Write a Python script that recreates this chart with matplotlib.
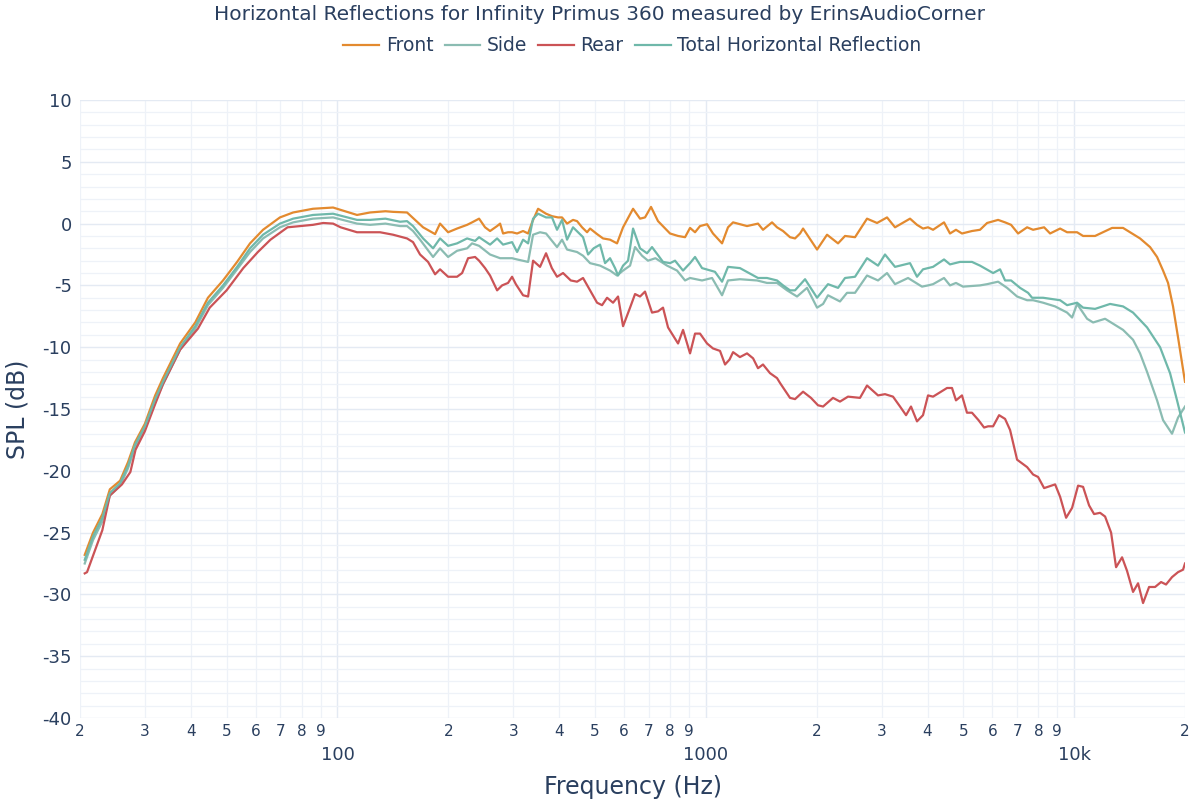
import matplotlib
matplotlib.use('Agg')
import matplotlib.pyplot as plt
from matplotlib.ticker import FixedLocator, FixedFormatter, MultipleLocator

plt.rcParams['font.family'] = ['DejaVu Sans']
plt.rcParams['axes.unicode_minus'] = False

# Data (Hz, dB)
front_freq = [20.6, 21.7, 23.0, 24.1, 25.7, 27.0, 28.2, 30.0, 32.0, 33.6, 37.4, 41.1, 44.5, 48.9,
              53.4, 57.9, 62.8, 69.8, 75.8, 85.8, 97.3, 113, 122.6, 135, 141.6, 154.5, 160.4, 170.8,
              184.1, 189.9, 199.7, 211.2, 224.9, 232, 242.4, 251.6, 259.6, 271.3, 276.4, 281.6,
              290.5, 297.9, 307.4, 319.1, 329.3, 337.6, 350.5, 368.4, 382.4, 397.1, 407.1, 420.1,
              436.1, 447.2, 461.4, 476.1, 485.1, 506.8, 526.1, 549.6, 574.2, 596.2, 634.7, 663,
              683.9, 710.1, 741.8, 799.7, 840.8, 878.4, 906.3, 935, 964.6, 1008, 1046, 1107, 1149,
              1186, 1294, 1386, 1430, 1513, 1561, 1621, 1693, 1747, 1803, 1837, 2005, 2134, 2286,
              2388, 2542, 2740, 2917, 3105, 3264, 3585, 3745, 3888, 4012, 4140, 4434, 4603, 4778,
              4961, 5281, 5553, 5804, 6217, 6494, 6743, 7045, 7453, 7738, 8289, 8606, 9161, 9571,
              10186, 10576, 11400, 12679, 13579, 15101, 16077, 16796, 17436, 17989, 18558, 19147,
              20000]
front_db = [-26.8, -25.0, -23.5, -21.5, -20.8, -19.3, -17.7, -16.2, -13.9, -12.5, -9.7, -8.0, -6.0, -4.6,
            -3.1, -1.6, -0.5, 0.5, 0.9, 1.2, 1.3, 0.7, 0.9, 1.0, 0.95, 0.9, 0.45, -0.3,
            -0.85, 0.0, -0.7, -0.4, -0.1, 0.1, 0.4, -0.3, -0.6, -0.2, 0.0, -0.8,
            -0.7, -0.7, -0.8, -0.6, -0.8, 0.1, 1.2, 0.8, 0.6, 0.5, 0.5, 0.0,
            0.3, 0.2, -0.3, -0.7, -0.4, -0.85, -1.2, -1.3, -1.6, -0.3, 1.2, 0.4,
            0.5, 1.35, 0.2, -0.8, -1.0, -1.1, -0.35, -0.7, -0.2, -0.05, -0.8, -1.6, -0.3,
            0.1, -0.2, 0.0, -0.5, 0.1, -0.3, -0.6, -1.1, -1.2, -0.8, -0.4, -2.1, -0.9, -1.6,
            -1.0, -1.1, 0.4, 0.05, 0.5, -0.3, 0.4, -0.1, -0.4, -0.3, -0.5, 0.1, -0.8, -0.5,
            -0.8, -0.6, -0.5, 0.05, 0.3, 0.1, -0.1, -0.8, -0.3, -0.5, -0.3, -0.8, -0.4, -0.7,
            -0.7, -1.0, -1.0, -0.35, -0.35, -1.2, -1.9, -2.7, -3.8, -4.8, -6.7, -9.2,
            -12.8]

side_freq = [20.6, 21.7, 23.0, 24.1, 25.7, 27.0, 28.2, 30.0, 32.0, 33.6, 37.4, 41.1, 44.5, 48.9,
             53.4, 57.9, 62.8, 69.8, 75.8, 85.8, 97.3, 113, 122.6, 135, 147.9, 154.5, 160.4, 167.6,
             181.8, 189.9, 199.7, 211.2, 224.9, 232, 242.4, 259.6, 276.4, 297.9, 307.4, 329.3,
             339.7, 354.8, 368.4, 394.6, 407.1, 420.1, 447.2, 464.3, 485.1, 516.4, 549.6, 574.2,
             596.2, 622.9, 642.6, 671.3, 696.9, 730, 784.9, 835.5, 878.4, 906.3, 976.8, 1040,
             1107, 1149, 1238, 1378, 1466, 1561, 1662, 1769, 1883, 2005, 2082, 2147, 2314, 2418,
             2542, 2740, 2935, 3105, 3264, 3541, 3864, 4012, 4140, 4434, 4603, 4778, 4992, 5553,
             5804, 6217, 6577, 7001, 7453, 7738, 8237, 8880, 9571, 9874, 10186, 10845, 11259,
             12135, 12758, 13579, 14454, 15101, 15779, 16796, 17436, 18443, 19147, 20000]
side_db = [-27.5, -25.6, -24.1, -22.0, -21.2, -19.8, -18.1, -16.6, -14.4, -13.0, -10.2, -8.5, -6.6, -5.2,
           -3.7, -2.3, -1.2, -0.3, 0.1, 0.4, 0.5, 0.0, -0.1, 0.0, -0.2, -0.2, -0.6, -1.3,
           -2.7, -2.0, -2.7, -2.2, -2.0, -1.6, -1.8, -2.5, -2.8, -2.8, -2.9, -3.1,
           -0.9, -0.7, -0.8, -1.9, -1.3, -2.1, -2.3, -2.6, -3.2, -3.4, -3.8, -4.2,
           -3.8, -3.4, -1.9, -2.6, -3.0, -2.8, -3.4, -3.8, -4.6, -4.4, -4.6, -4.4,
           -5.8, -4.6, -4.5, -4.6, -4.8, -4.8, -5.4, -5.9, -5.2, -6.8, -6.5, -5.8, -6.3, -5.6,
           -5.6, -4.2, -4.6, -4.0, -4.9, -4.4, -5.1, -5.0, -4.9, -4.4, -5.0, -4.8, -5.1, -5.0,
           -4.9, -4.7, -5.2, -5.9, -6.2, -6.2, -6.4, -6.7, -7.2, -7.6, -6.5, -7.7, -8.0,
           -7.7, -8.1, -8.6, -9.4, -10.5, -12.0, -14.3, -15.9, -17.0, -15.7, -14.8]

rear_freq = [20.6, 20.9, 23.0, 24.1, 26.0, 27.4, 28.3, 30.0, 32.0, 33.6, 37.4, 41.8, 45.0, 50.0,
             55.5, 60.8, 65.8, 73.2, 79.4, 85.8, 91.5, 97.3, 102, 113, 122.6, 130.5, 141.6, 154.5,
             160.4, 167.6, 176.2, 184.1, 189.9, 199.7, 211.2, 218, 226.3, 236.4, 242.4, 251.6,
             259.6, 271.3, 279.9, 290.5, 297.9, 305, 319.1, 329.3, 339.7, 354.8, 368.4, 382,
             394.6, 409.7, 430, 447.2, 464.3, 485.1, 506.8, 522.9, 539.5, 560.1, 577.8, 596.2,
             622.9, 642.6, 663, 683.9, 714.5, 741.8, 765.4, 789.8, 825.2, 840.8, 867.5, 906.3,
             935, 964.6, 1008, 1046, 1093, 1128, 1160, 1186, 1238, 1294, 1344, 1386, 1430, 1494,
             1561, 1591, 1693, 1747, 1837, 1930, 2017, 2082, 2215, 2314, 2433, 2622, 2740, 2935,
             3066, 3223, 3368, 3497, 3607, 3745, 3888, 4012, 4140, 4300, 4518, 4661, 4778, 4961,
             5118, 5281, 5500, 5696, 5840, 6026, 6256, 6494, 6701, 7001, 7453, 7738, 7984, 8289,
             8880, 9161, 9511, 9874, 10250, 10576, 10981, 11329, 11762, 12135, 12600, 12998,
             13495, 13922, 14454, 14914, 15387, 15977, 16587, 17221, 17765, 18443, 19147, 19757,
             20000]
rear_db = [-28.3, -28.2, -24.8, -22.0, -21.1, -20.1, -18.3, -16.8, -14.6, -13.0, -10.2, -8.5, -6.8, -5.4,
           -3.6, -2.3, -1.3, -0.3, -0.2, -0.1, 0.05, 0.0, -0.3, -0.7, -0.7, -0.7, -0.9, -1.2,
           -1.5, -2.5, -3.1, -4.1, -3.7, -4.3, -4.3, -4.0, -2.8, -2.7, -3.0, -3.6,
           -4.2, -5.4, -5.0, -4.8, -4.3, -4.9, -5.8, -5.9, -3.0, -3.5, -2.4, -3.6,
           -4.3, -4.0, -4.6, -4.7, -4.4, -5.4, -6.4, -6.6, -6.0, -6.4, -5.9, -8.3,
           -6.8, -5.7, -5.9, -5.5, -7.2, -7.1, -6.8, -8.4, -9.3, -9.7, -8.6, -10.5,
           -8.9, -8.9, -9.7, -10.1, -10.3, -11.4, -11.0, -10.4, -10.8, -10.5, -10.9, -11.7, -11.4, -12.1,
           -12.5, -12.9, -14.1, -14.2, -13.6, -14.1, -14.7, -14.8, -14.1, -14.4, -14.0, -14.1, -13.1, -13.9,
           -13.8, -14.0, -14.8, -15.5, -14.8, -16.0, -15.5, -13.9, -14.0, -13.7, -13.3, -13.3, -14.3, -13.9,
           -15.3, -15.3, -15.9, -16.5, -16.4, -16.4, -15.5, -15.8, -16.7, -19.1, -19.7, -20.3, -20.5, -21.4,
           -21.1, -22.1, -23.8, -23.0, -21.2, -21.3, -22.8, -23.5, -23.4, -23.7, -25.0, -27.8,
           -27.0, -28.1, -29.8, -29.1, -30.7, -29.4, -29.4, -29.0, -29.2, -28.6, -28.2, -28.0,
           -27.5]

total_freq = [20.6, 21.7, 23.0, 24.1, 25.7, 27.0, 28.2, 30.0, 32.0, 33.6, 37.4, 41.1, 44.5, 48.9,
              53.4, 57.9, 62.8, 69.8, 75.8, 85.8, 97.3, 113, 122.6, 135, 147.9, 154.5, 160.4, 170.8,
              181.8, 189.9, 199.7, 211.2, 224.9, 236.4, 242.4, 259.6, 271.3, 281.6, 297.9, 307.4,
              319.1, 329.3, 339.7, 350.5, 368.4, 382.4, 394.6, 407.1, 420.1, 436.1, 464.3, 479.1,
              496, 516.4, 532.8, 549.6, 567.1, 577.8, 596.2, 615.1, 634.7, 663, 692.6, 714.5,
              765.4, 799.7, 825.2, 867.5, 906.3, 935, 976.8, 1059, 1107, 1149, 1238, 1386, 1466,
              1561, 1621, 1693, 1747, 1860, 2005, 2147, 2286, 2388, 2542, 2740, 2935, 3066, 3264,
              3585, 3745, 3888, 4140, 4434, 4603, 4899, 5281, 5553, 6026, 6295, 6494, 6743, 7133,
              7499, 7690, 8237, 9161, 9571, 10186, 10576, 11400, 12521, 13579, 14454, 15779, 17114,
              18215, 19028, 20000]
total_db = [-27.2, -25.3, -23.8, -21.8, -21.0, -19.6, -17.9, -16.4, -14.2, -12.8, -10.0, -8.3, -6.4, -5.0,
            -3.5, -2.0, -0.9, 0.0, 0.4, 0.7, 0.8, 0.3, 0.3, 0.4, 0.15, 0.2, -0.2, -1.2,
            -2.0, -1.2, -1.8, -1.6, -1.2, -1.4, -1.1, -1.7, -1.2, -1.7, -1.5, -2.3,
            -1.3, -1.6, 0.4, 0.8, 0.5, 0.5, -0.5, 0.3, -1.3, -0.3, -1.1, -2.5,
            -2.0, -1.7, -3.2, -2.8, -3.6, -4.2, -3.4, -3.0, -0.4, -2.0, -2.4, -1.9,
            -3.1, -3.2, -3.0, -3.8, -3.2, -2.7, -3.6, -3.9, -4.7, -3.5, -3.6, -4.4, -4.4,
            -4.6, -5.0, -5.4, -5.4, -4.5, -6.0, -4.9, -5.2, -4.4, -4.3, -2.8, -3.4, -2.5, -3.5,
            -3.2, -4.3, -3.7, -3.5, -2.9, -3.3, -3.1, -3.1, -3.4, -4.0, -3.7, -4.6, -4.6, -5.2,
            -5.6, -6.0, -6.0, -6.2, -6.6, -6.4, -6.8, -6.9, -6.5, -6.7, -7.2, -8.4, -10.0,
            -12.1, -14.3, -16.9]

series = [
    ('Front', front_freq, front_db, '#e38a2f'),
    ('Side', side_freq, side_db, '#8bbcb2'),
    ('Rear', rear_freq, rear_db, '#cb5356'),
    ('Total Horizontal Reflection', total_freq, total_db, '#6fb8aa'),
]

text_color = '#2a3f5f'
grid_major = '#e4eaf3'
grid_minor = '#eef2f8'

fig = plt.figure(figsize=(12, 8), dpi=100)
ax = fig.add_axes([80 / 1200, 82 / 800, 1105 / 1200, 618 / 800])

for name, f, db, c in series:
    ax.plot(f, db, color=c, lw=1.6, label=name, zorder=3)

ax.set_xscale('log')
ax.set_xlim(20, 20000)
ax.set_ylim(-40, 10)

# x ticks: decades as major (lower row), 2..9 multiples as minor
major_x = [100, 1000, 10000]
minor_x = [m * 10 ** e for e in (1, 2, 3) for m in range(2, 10)] + [20000]
ax.xaxis.set_major_locator(FixedLocator(major_x))
ax.xaxis.set_major_formatter(FixedFormatter(['100', '1000', '10k']))
ax.xaxis.set_minor_locator(FixedLocator(minor_x))
ax.xaxis.set_minor_formatter(FixedFormatter([str(int(v))[0] for v in minor_x]))
ax.tick_params(axis='x', which='minor', length=0, pad=4, labelsize=11, labelcolor=text_color)
ax.tick_params(axis='x', which='major', length=0, pad=20, labelsize=13, labelcolor=text_color)

ax.yaxis.set_major_locator(MultipleLocator(5))
ax.yaxis.set_minor_locator(MultipleLocator(1))
ax.tick_params(axis='y', which='both', length=0, pad=6, labelsize=13, labelcolor=text_color)

ax.grid(which='major', color=grid_major, lw=1.0, zorder=0)
ax.grid(which='minor', color=grid_minor, lw=0.9, zorder=0)
for s in ax.spines.values():
    s.set_visible(False)
ax.set_axisbelow(True)

ax.set_xlabel('Frequency (Hz)', fontsize=17, color=text_color, labelpad=8)
ax.set_ylabel('SPL (dB)', fontsize=17, color=text_color)
ax.yaxis.set_label_coords(-0.046, 0.5)

fig.text(0.5, 0.994, 'Horizontal Reflections for Infinity Primus 360 measured by ErinsAudioCorner',
         ha='center', va='top', fontsize=14.5, color=text_color)
leg = fig.legend(loc='upper center', bbox_to_anchor=(0.527, 0.976), ncol=4, frameon=False,
                 fontsize=13.5, handlelength=1.9, handletextpad=0.35, columnspacing=0.6)
for t in leg.get_texts():
    t.set_color(text_color)

plt.savefig('out.png', dpi=100)
